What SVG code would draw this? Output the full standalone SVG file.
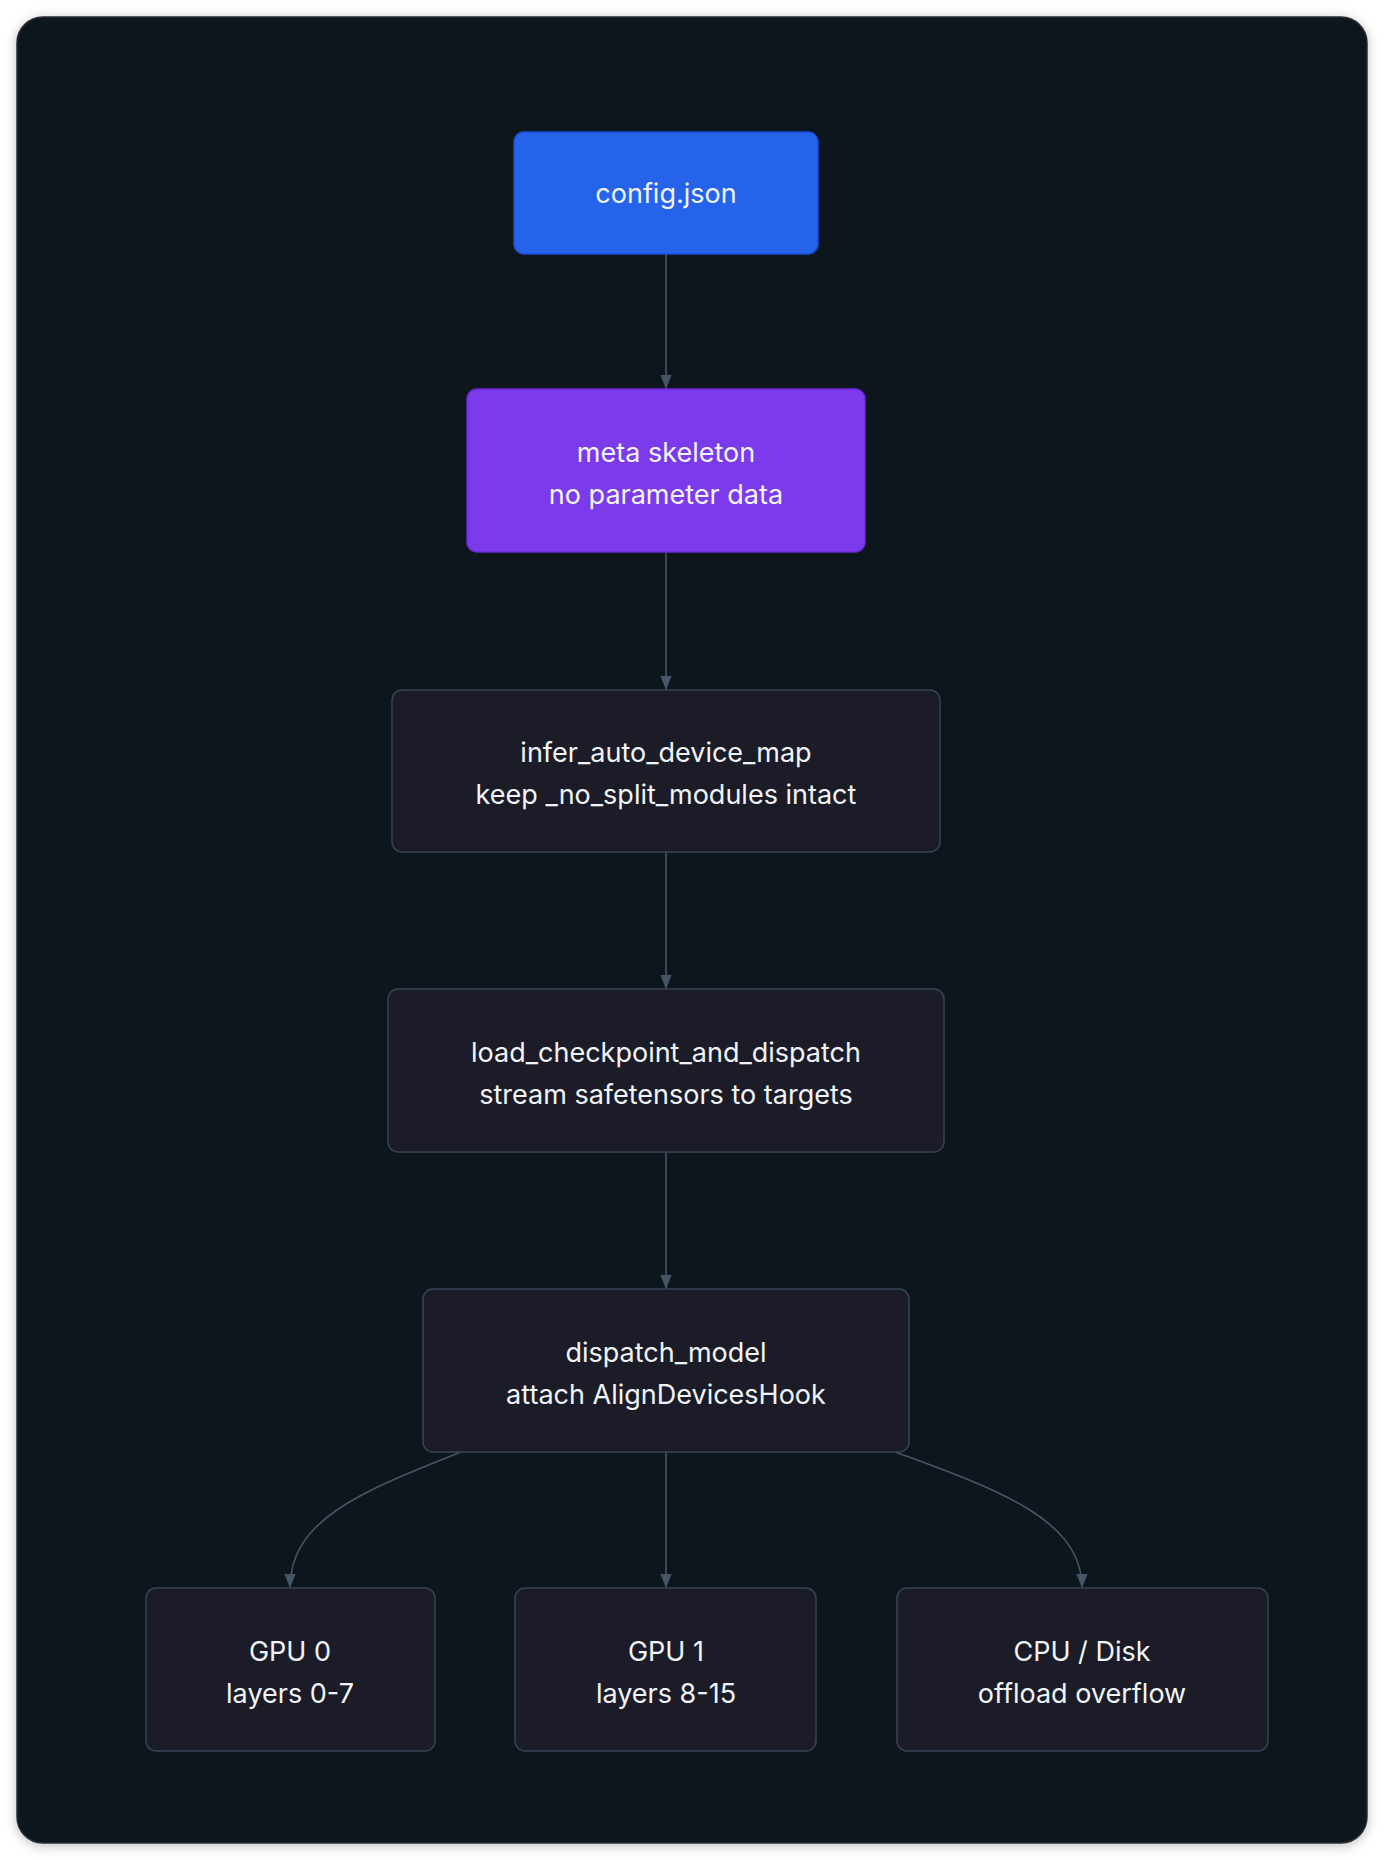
<svg xmlns="http://www.w3.org/2000/svg" width="1384" height="1860" viewBox="0 0 1384 1860">
<defs>
<marker id="arr" viewBox="0 0 10 10" refX="10" refY="5" markerWidth="14" markerHeight="14" markerUnits="userSpaceOnUse" orient="auto"><path d="M0,1 L10,5 L0,9 z" fill="#475569"/></marker>
<filter id="sh" x="-5%" y="-5%" width="110%" height="110%"><feDropShadow dx="0" dy="2" stdDeviation="6" flood-color="#000" flood-opacity="0.25"/></filter>
<style>
.t{font-family:Inter,"Liberation Sans",sans-serif;font-size:27px;fill:#f1f5f9;text-anchor:middle}
.n{fill:#1b1c27;stroke:#374357;stroke-width:1.5}
.e{fill:none;stroke:#475569;stroke-width:1.6;marker-end:url(#arr)}
</style>
</defs>
<rect width="1384" height="1860" fill="#ffffff"/>
<rect x="17" y="17" width="1350" height="1826" rx="26" fill="#11121a" stroke="#2a2d36" stroke-width="1.5" filter="url(#sh)"/>
<g id="edges">
<path class="e" d="M666,254 V389"/>
<path class="e" d="M666,552 V690"/>
<path class="e" d="M666,852 V989"/>
<path class="e" d="M666,1152 V1289"/>
<path class="e" d="M666,1452 V1588"/>
<path class="e" d="M461,1452 C360,1492 290,1520 290,1588"/>
<path class="e" d="M895,1452 C1000,1490 1082,1520 1082,1588"/>
</g>
<g id="config"><rect x="514" y="132" width="304" height="122" rx="10" fill="#2563eb" stroke="#1d4ed8" stroke-width="1.5"/><text class="t" x="666" y="203">config.json</text></g>
<g id="meta"><rect x="467" y="389" width="398" height="163" rx="10" fill="#7c3aed" stroke="#6d28d9" stroke-width="1.5"/><text class="t" x="666" y="462">meta skeleton</text><text class="t" x="666" y="504">no parameter data</text></g>
<g id="infer"><rect class="n" x="392" y="690" width="548" height="162" rx="10"/><text class="t" x="666" y="762">infer_auto_device_map</text><text class="t" x="666" y="804">keep _no_split_modules intact</text></g>
<g id="load"><rect class="n" x="388" y="989" width="556" height="163" rx="10"/><text class="t" x="666" y="1062">load_checkpoint_and_dispatch</text><text class="t" x="666" y="1104">stream safetensors to targets</text></g>
<g id="dispatch"><rect class="n" x="423" y="1289" width="486" height="163" rx="10"/><text class="t" x="666" y="1362">dispatch_model</text><text class="t" x="666" y="1404">attach AlignDevicesHook</text></g>
<g id="gpu0"><rect class="n" x="146" y="1588" width="289" height="163" rx="10"/><text class="t" x="290" y="1661">GPU 0</text><text class="t" x="290" y="1703">layers 0-7</text></g>
<g id="gpu1"><rect class="n" x="515" y="1588" width="301" height="163" rx="10"/><text class="t" x="666" y="1661">GPU 1</text><text class="t" x="666" y="1703">layers 8-15</text></g>
<g id="cpu"><rect class="n" x="897" y="1588" width="371" height="163" rx="10"/><text class="t" x="1082" y="1661">CPU / Disk</text><text class="t" x="1082" y="1703">offload overflow</text></g>
</svg>
